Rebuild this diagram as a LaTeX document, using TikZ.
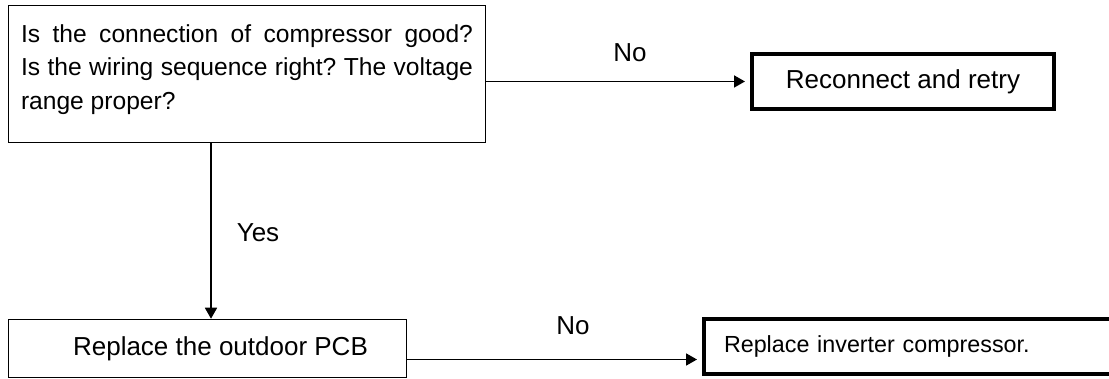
\documentclass[tikz,border=0pt]{standalone}
\usepackage{fontspec}
\setmainfont{Liberation Sans}
\usetikzlibrary{positioning,arrows.meta}

\begin{document}
\begin{tikzpicture}[
        x=1pt, y=-1pt,
        box/.style={draw, line width=1.5pt, inner sep=0pt, align=center,
                    font=\fontsize{26}{33}\selectfont},
        question/.style={box, text width=452pt, align=justify,
                    font=\fontsize{24.6}{33.5}\selectfont\frenchspacing,
                    text depth=81pt, minimum width=477pt, minimum height=137pt},
        action/.style={box, minimum width=398pt, minimum height=58pt},
        result/.style={box, line width=4pt, minimum height=55pt},
        arr/.style={-{Triangle[length=11pt,width=12pt]}, line width=1.8pt},
        lbl/.style={font=\fontsize{26}{30}\selectfont},
    ]
    \clip (0,0) rectangle (1109,379);

    % --- Pytanie ---
    \node[question] (check) at (247,74) {Is the connection of compressor good?\linebreak
        Is the wiring sequence right? The voltage range proper?};
    \node[result, minimum width=302pt] (reconnect) at (903,81.5) {Reconnect and retry};

    % --- Kroki ---
    \node[action] (pcb) at (207.5,348.5) {\hspace*{26pt}Replace the outdoor PCB};
    \node[result, anchor=west, text width=400pt, align=left, inner xsep=20pt,
          font=\fontsize{23.3}{30}\selectfont]
        (inverter) at (702,346.5) {Replace inverter compressor.};

    % --- Strzałki ---
    \draw[arr, shorten >=5pt] (check.east |- reconnect.west) -- (reconnect.west);
    \draw[arr] ([xshift=3.5pt]pcb.north |- check.south) -- ([xshift=3.5pt]pcb.north);
    \coordinate (pcbout) at ([yshift=-11pt]pcb.east);
    \draw[arr, shorten >=5pt] (pcbout) -- (pcbout -| inverter.west);

    % --- Etykiety ---
    \node[lbl] (no1) at (630,53) {No};
    \node[lbl] (yes) at (258,233) {Yes};
    \node[lbl] (no2) at (573,326) {No};
\end{tikzpicture}
\end{document}
